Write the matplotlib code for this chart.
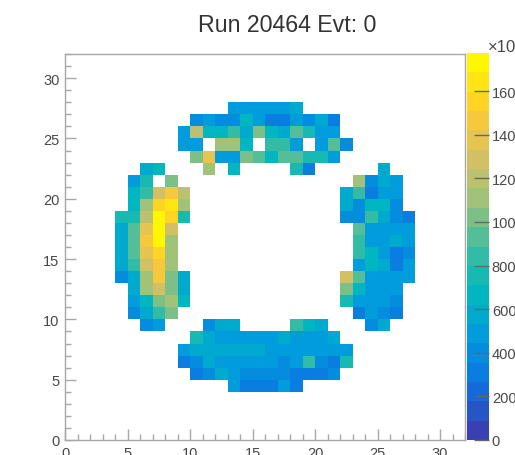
import numpy as np
import matplotlib
matplotlib.use("Agg")
import matplotlib.pyplot as plt
from matplotlib.colors import LinearSegmentedColormap, BoundaryNorm, ListedColormap

plt.rcParams['font.family'] = ['Liberation Sans', 'DejaVu Sans']

nan = np.nan

# counts per pmt column, nan = empty cell
top_rows = [27, 26, 25, 24, 23, 22]
top_first = [13, 10, 9, 9, 10, 11]
top_counts = [
    [520, 520, 520, 520, 520, 620],
    [430, 520, 430, 430, 640, 520, 340, 340, 480, 380, 560, 340],
    [470, 1240, 700, 700, 830, 560, 1050, 680, 580, 900, 720, 500, 460],
    [470, 470, nan, 1120, 1120, 680, nan, 880, 880, 500, nan, 500, 900, 380],
    [1000, 1350, 480, 480, 1030, 900, 680, 920, 920, 720, 720, 470],
    [1150, nan, 700, nan, nan, nan, nan, 720, 340],
]

bottom_rows = [9, 8, 7, 6, 5, 4]
bottom_first = [11, 10, 9, 9, 10, 13]
bottom_counts = [
    [400, 580, 600, nan, nan, nan, nan, 800, 700, 620],
    [720, 600, 520, 520, 520, 520, 520, 560, 520, 520, 450, 620],
    [460, 580, 600, 540, 540, 540, 540, 470, 470, 470, 470, 470, 470, 470],
    [340, 400, 560, 450, 450, 520, 520, 470, 400, 500, 830, 440, 340, 730],
    [310, 370, 560, 470, 390, 390, 390, 390, 340, 340, 340, 420],
    [500, 330, 330, 330, 450, 310],
]

left_rows = [22, 21, 20, 19, 18, 17, 16, 15, 14, 13, 12, 11, 10, 9]
left_first = [6, 5, 5, 5, 4, 4, 4, 4, 4, 4, 5, 5, 5, 6]
left_counts = [
    [550, 640],
    [470, 780, nan, 1000],
    [640, 880, 1300, 1500, 1220],
    [700, 1100, 1530, 1620, 1130],
    [780, 780, 1230, 1750, 1560, 770],
    [560, 920, 1380, 1750, 1330],
    [560, 920, 1500, 1750, 1130],
    [560, 940, 1340, 1560, 1130],
    [540, 830, 1250, 1470, 1100],
    [440, 620, 1140, 1470, 1050, 610],
    [550, 1070, 1330, 1030, 610],
    [520, 680, 1000, 1130, 650],
    [360, 580, 880, 1030],
    [410, 520],
]

right_rows = [22, 21, 20, 19, 18, 17, 16, 15, 14, 13, 12, 11, 10, 9]
right_first = [25, 23, 22, 22, 22, 23, 23, 23, 23, 22, 22, 22, 23, 24]
right_counts = [
    [560],
    [1120, 440, 560, 500],
    [600, 820, 340, 520, 510],
    [600, 400, 680, 700, 420],
    [440, 420, 820, 620, 400, 340],
    [900, 530, 530, 530, 530],
    [800, 450, 520, 600, 450],
    [800, 680, 520, 340, 420],
    [460, 680, 580, 340, 510],
    [1330, 920, 450, 530, 530, 530],
    [1020, 680, 510, 450, 520],
    [730, 450, 500, 500, 420],
    [350, 450, 390, 350],
    [400, 580],
]

cbar_ticks = [0, 200, 400, 600, 800, 1000, 1200, 1400, 1600]
z_max = 1775
n_levels = 20

# bird style palette, colours picked from the colour bar in the picture
bird_stops = [0.0, 0.125, 0.25, 0.375, 0.5, 0.625, 0.75, 0.875, 1.0]
bird_red = [0.22, 0.05, 0.00, 0.00, 0.25, 0.62, 0.85, 1.00, 1.00]
bird_green = [0.25, 0.45, 0.60, 0.72, 0.74, 0.76, 0.75, 0.80, 0.97]
bird_blue = [0.70, 0.88, 0.87, 0.75, 0.62, 0.48, 0.38, 0.18, 0.00]

bird = LinearSegmentedColormap.from_list(
    "bird", list(zip(bird_stops, zip(bird_red, bird_green, bird_blue))))
cmap = ListedColormap([bird(i / (n_levels - 1)) for i in range(n_levels)])
norm = BoundaryNorm(np.linspace(0, z_max, n_levels + 1), n_levels)

grid = np.full((32, 32), nan)
for rows, first, counts in [(top_rows, top_first, top_counts),
                            (bottom_rows, bottom_first, bottom_counts),
                            (left_rows, left_first, left_counts),
                            (right_rows, right_first, right_counts)]:
    for r, f, c in zip(rows, first, counts):
        grid[r, f:f + len(c)] = c

W, H = 515, 456
fig = plt.figure(figsize=(W / 100, H / 100), dpi=100)
ax = fig.add_axes([65 / W, 1 - 441 / H, 400 / W, 386 / H])
edges = np.arange(33)
mesh = ax.pcolormesh(edges, edges, np.ma.masked_invalid(grid), cmap=cmap, norm=norm,
                     antialiased=False, linewidth=0)

gray = "#a8a8a8"
txt = "#484848"
ax.set_xlim(0, 32)
ax.set_ylim(0, 32)
ax.set_xticks(np.arange(0, 31, 5))
ax.set_yticks(np.arange(0, 31, 5))
ax.set_xticks(np.arange(0, 33), minor=True)
ax.set_yticks(np.arange(0, 33), minor=True)
ax.tick_params(which="major", direction="in", length=8, width=1, color=gray,
               labelsize=10.5, labelcolor=txt, pad=4)
ax.tick_params(which="minor", direction="in", length=4, width=1, color=gray)
for s in ax.spines.values():
    s.set_color(gray)
    s.set_linewidth(1)

cax = fig.add_axes([467 / W, 1 - 441 / H, 22 / W, 387 / H])
cb = fig.colorbar(mesh, cax=cax, spacing="proportional", drawedges=False)
cb.set_ticks(cbar_ticks)
cb.minorticks_off()
cb.outline.set_visible(False)
cax.tick_params(direction="in", length=11, width=1, color="#666666",
                labelsize=10.5, labelcolor=txt, pad=2)
fig.text(488 / W, 1 - 47 / H, "×10³", fontsize=12, color=txt, ha="left", va="center")

fig.text(287 / W, 1 - 25 / H, "Run 20464 Evt: 0", fontsize=16.7, color="#333333",
         ha="center", va="center")

fig.savefig("out.png", dpi=100)
